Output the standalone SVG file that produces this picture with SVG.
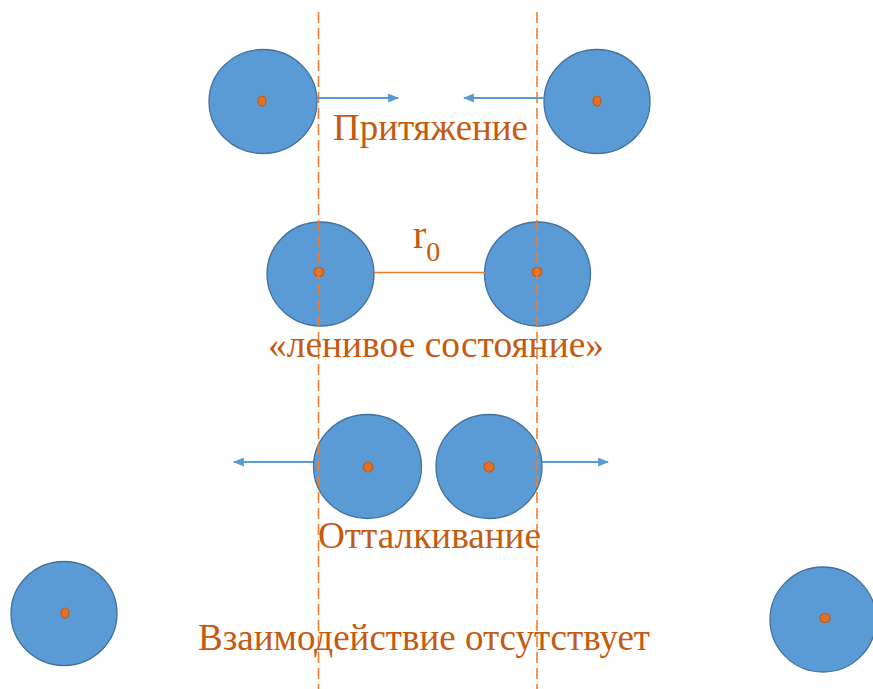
<svg xmlns="http://www.w3.org/2000/svg" width="873" height="689" viewBox="0 0 873 689">
<style>
.atom{fill:#5B9BD5;stroke:#41719C;stroke-width:1.3}
.dot{fill:#E0702A;stroke:#C55A11;stroke-width:1.2}
.guide{stroke:#ED7D31;stroke-width:1.6;stroke-dasharray:11 5;fill:none}
.arrow{stroke:#5B9BD5;stroke-width:1.8;fill:none;marker-end:url(#ah)}
.lbl{font-family:"Liberation Serif","Times New Roman",serif;font-size:38px;fill:#C55A11;text-anchor:middle}
</style>
<defs>
<marker id="ah" viewBox="0 0 10 10" refX="9" refY="5" markerWidth="11" markerHeight="9" markerUnits="userSpaceOnUse" orient="auto" preserveAspectRatio="none">
<path d="M0,0 L10,5 L0,10 z" fill="#5B9BD5"/>
</marker>
</defs>
<rect width="873" height="689" fill="#fff"/>
<g id="row1-left"><ellipse class="atom" cx="263" cy="101.5" rx="54" ry="52"/><ellipse class="dot" cx="262" cy="101" rx="4" ry="5"/></g>
<g id="row1-right"><ellipse class="atom" cx="597" cy="101.5" rx="53" ry="52"/><ellipse class="dot" cx="597" cy="101" rx="4" ry="5"/></g>
<g id="row2-left"><ellipse class="atom" cx="320.5" cy="274" rx="53.5" ry="52"/><ellipse class="dot" cx="319" cy="272" rx="5" ry="4.5"/></g>
<g id="row2-right"><ellipse class="atom" cx="537.5" cy="274" rx="53" ry="52"/><ellipse class="dot" cx="537" cy="272" rx="5" ry="4.5"/></g>
<g id="row3-left"><ellipse class="atom" cx="367.5" cy="466.5" rx="54" ry="52"/><ellipse class="dot" cx="368" cy="467" rx="4.5" ry="5"/></g>
<g id="row3-right"><ellipse class="atom" cx="489" cy="466.5" rx="53" ry="52"/><ellipse class="dot" cx="489" cy="467" rx="5" ry="5"/></g>
<g id="row4-left"><ellipse class="atom" cx="64" cy="613.5" rx="53" ry="52"/><ellipse class="dot" cx="65" cy="613" rx="4" ry="5"/></g>
<g id="row4-right"><ellipse class="atom" cx="823" cy="619.5" rx="53" ry="52.5"/><ellipse class="dot" cx="825" cy="618" rx="5" ry="4.5"/></g>
<g id="guides">
<line class="guide" x1="318.5" y1="12" x2="318.5" y2="689"/>
<line class="guide" x1="537" y1="12" x2="537" y2="689"/>
</g>
<g id="connectors">
<line class="arrow" x1="317" y1="98" x2="398" y2="98"/>
<line class="arrow" x1="544" y1="98" x2="464" y2="98"/>
<line x1="374" y1="272.5" x2="485" y2="272.5" stroke="#ED7D31" stroke-width="1.6"/>
<line class="arrow" x1="313" y1="462" x2="234" y2="462"/>
<line class="arrow" x1="542" y1="462" x2="608" y2="462"/>
</g>
<g id="labels">
<text class="lbl" x="430.5" y="140" textLength="195" lengthAdjust="spacingAndGlyphs">Притяжение</text>
<text x="413" y="248" font-family="'Liberation Serif','Times New Roman',serif" font-size="40" fill="#C55A11">r<tspan font-size="28" dy="13">0</tspan></text>
<text class="lbl" x="436" y="357" textLength="336" lengthAdjust="spacingAndGlyphs">«ленивое состояние»</text>
<text class="lbl" x="429.5" y="548" textLength="223" lengthAdjust="spacingAndGlyphs">Отталкивание</text>
<text class="lbl" x="424" y="650" textLength="452" lengthAdjust="spacingAndGlyphs">Взаимодействие отсутствует</text>
</g>
</svg>
